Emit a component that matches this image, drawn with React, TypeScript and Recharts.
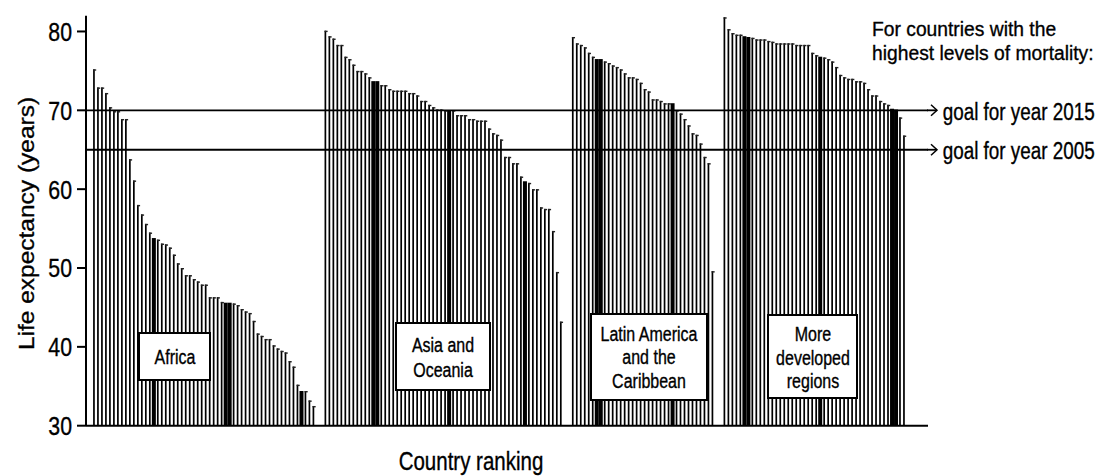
import React from "react";
import { BarChart, Bar, XAxis, YAxis, ReferenceLine } from "recharts";

// ---------- data ----------
const regions = ["Africa", "Asia and Oceania", "Latin America and the Caribbean", "More developed regions"];

const africa = [
  75.2, 72.9, 72.9, 72.2, 70.4, 69.9, 69.9, 68.9, 68.9, 63.8,
  61.1, 58.0, 56.8, 55.6, 54.5, 53.8, 53.6, 53.1, 53.0, 52.6,
  51.7, 50.6, 50.0, 49.1, 49.1, 48.6, 48.3, 47.9, 47.9, 46.3,
  46.3, 46.3, 45.7, 45.6, 45.6, 45.5, 45.3, 44.8, 44.5, 44.3,
  43.3, 41.7, 41.4, 41.0, 41.0, 40.2, 39.8, 39.5, 39.3, 38.2,
  37.5, 35.2, 34.4, 34.4, 33.2, 32.5,
];

const asiaOceania = [
  80.1, 79.4, 79.1, 78.3, 78.3, 76.8, 76.5, 75.8, 75.0, 75.0,
  74.7, 74.2, 73.7, 73.7, 73.2, 73.2, 72.7, 72.5, 72.5, 72.5,
  72.5, 72.2, 72.2, 71.9, 71.2, 71.2, 70.7, 70.4, 70.1, 70.1,
  70.0, 70.0, 70.0, 69.4, 69.4, 69.4, 68.9, 68.9, 68.7, 68.7,
  68.7, 67.7, 67.1, 66.9, 66.3, 64.1, 64.1, 63.3, 63.3, 61.6,
  61.0, 60.8, 60.0, 60.0, 57.7, 57.5, 57.5, 54.7, 49.5, 43.2,
];

const latinAmerica = [
  79.3, 78.5, 78.3, 78.0, 77.3, 76.8, 76.5, 76.5, 76.2, 76.0,
  75.7, 75.5, 75.2, 74.7, 74.2, 74.2, 74.0, 73.5, 72.7, 72.4,
  71.4, 71.4, 71.2, 70.9, 70.9, 70.9, 70.0, 69.6, 68.9, 68.1,
  67.1, 66.9, 65.8, 64.1, 63.3, 49.6,
];

const moreDeveloped = [
  81.8, 80.3, 79.8, 79.6, 79.6, 79.4, 79.3, 79.2, 79.0, 79.0,
  79.0, 78.8, 78.7, 78.5, 78.5, 78.5, 78.5, 78.5, 78.3, 78.3,
  78.3, 78.3, 77.3, 77.0, 76.8, 76.7, 76.5, 76.2, 75.5, 74.5,
  74.2, 74.0, 74.0, 73.7, 73.7, 73.5, 72.7, 71.9, 71.9, 71.2,
  70.9, 70.7, 70.2, 70.1, 69.1, 66.8,
];

const yTicks = [30, 40, 50, 60, 70, 80];
const goalValues = [70, 65];
const goalLabels = ["goal for year 2015", "goal for year 2005"];
const noteLines = ["For countries with the", "highest levels of mortality:"];
const yAxisTitle = "Life expectancy (years)";
const xAxisTitle = "Country ranking";
const boxLines = [["Africa"], ["Asia and", "Oceania"], ["Latin America", "and the", "Caribbean"], ["More", "developed", "regions"]];

const regionValues = [africa, asiaOceania, latinAmerica, moreDeveloped];
const GAP_SLOTS = 2;

const data: { id: string; v: number | null }[] = [];
regionValues.forEach((vals, r) => {
  if (r > 0) for (let g = 0; g < GAP_SLOTS; g++) data.push({ id: `gap${r}-${g}`, v: null });
  vals.forEach((v, i) => data.push({ id: `${regions[r]} ${i + 1}`, v }));
});

// ---------- styling ----------
const FONT = "'Liberation Sans', Arial, Helvetica, sans-serif";
const SX = 0.82;
const HEAVY = 0.35;

const W = 1101;
const H = 476;
const PLOT_TOP = 15.7;
const PLOT_BOTTOM = 425.7;
const PLOT_LEFT = 86;
const PLOT_RIGHT = 928;

// aliasing pattern of the scanned original (dark columns every ~74px)
const isDark = (cx: number) => {
  const p = (((cx - 153) % 74.2) + 74.2) % 74.2;
  return p < 3 || p > 71.2;
};

const BarShape = (props: any) => {
  const { x, y, width, height } = props;
  if (height == null || !(height > 0) || isNaN(y)) return null;
  const cx = x + width / 2;
  if (isDark(cx)) {
    return <rect x={x} y={y} width={width} height={height} fill="#000" />;
  }
  return (
    <g>
      <rect x={cx - 0.9} y={y} width={1.7} height={height} fill="#000" />
      <rect x={cx - 0.9} y={y} width={3.1} height={1.4} fill="#222" />
    </g>
  );
};

const NText = ({ x, y, size, anchor = "start", sx = SX, children }: any) => (
  <text
    transform={`translate(${x},${y}) scale(${sx},1)`}
    x={0}
    y={0}
    textAnchor={anchor}
    fontSize={size}
    fontFamily={FONT}
    fill="#000"
    stroke="#000"
    strokeWidth={HEAVY}
  >
    {children}
  </text>
);

const YTick = (props: any) => {
  const { x, y, payload } = props;
  return (
    <g transform={`translate(${x},${y}) scale(${SX},1)`}>
      <text x={0} y={0} dy="0.36em" textAnchor="end" fontSize={26} fontFamily={FONT} fill="#000" stroke="#000" strokeWidth={HEAVY}>
        {payload.value}
      </text>
    </g>
  );
};

const GoalLabel = (props: any) => {
  const vb = props.viewBox;
  if (!vb) return null;
  const xe = vb.x + vb.width;
  const yy = vb.y;
  return (
    <g>
      <line x1={xe - 1} y1={yy} x2={xe + 9} y2={yy} stroke="#000" strokeWidth={1.8} />
      <polyline points={`${xe + 3},${yy - 5.5} ${xe + 9},${yy} ${xe + 3},${yy + 5.5}`} fill="none" stroke="#000" strokeWidth={1.5} />
      <NText x={xe + 14.7} y={yy + 9.5} size={23}>
        {props.text}
      </NText>
    </g>
  );
};

const boxes = [
  { x: 139, y: 333, w: 71, h: 47, cx: 175, base: [364] },
  { x: 396, y: 323, w: 94, h: 67, cx: 443, base: [352, 377] },
  { x: 591, y: 314, w: 116, h: 86, cx: 649, base: [340.5, 364, 387.5] },
  { x: 768, y: 315, w: 89, h: 83, cx: 813, base: [340.5, 364.5, 388] },
];

export default function App() {
  return (
    <div style={{ position: "absolute", left: 0, top: 0, width: W, height: H, background: "#fff" }}>
      <BarChart
        width={W}
        height={H}
        data={data}
        margin={{ top: PLOT_TOP, right: W - PLOT_RIGHT, bottom: H - PLOT_BOTTOM - 30, left: 0 }}
        barCategoryGap={0}
        barGap={0}
      >
        <XAxis
          dataKey="id"
          type="category"
          tick={false}
          tickLine={false}
          height={30}
          axisLine={{ stroke: "#000", strokeWidth: 2 }}
          padding={{ left: 6, right: 22 }}
          interval={0}
        />
        <YAxis
          width={PLOT_LEFT}
          domain={[30, 82]}
          ticks={yTicks}
          allowDataOverflow
          tick={<YTick />}
          tickSize={9}
          tickMargin={5}
          tickLine={{ stroke: "#000", strokeWidth: 2 }}
          axisLine={{ stroke: "#000", strokeWidth: 2 }}
        />
        {goalValues.map((g, i) => (
          <ReferenceLine
            key={g}
            y={g}
            stroke="#000"
            strokeWidth={1.8}
            label={<GoalLabel text={goalLabels[i]} />}
          />
        ))}
        <Bar dataKey="v" isAnimationActive={false} shape={<BarShape />} />
      </BarChart>

      <svg
        width={W}
        height={H}
        style={{ position: "absolute", left: 0, top: 0, pointerEvents: "none" }}
      >
        <text
          transform={`translate(26,223.5) scale(0.92,1) rotate(-90)`}
          x={0}
          y={0}
          dy="0.35em"
          textAnchor="middle"
          fontSize={24.5}
          fontFamily={FONT}
          fill="#000"
          stroke="#000"
          strokeWidth={HEAVY}
        >
          {yAxisTitle}
        </text>
        <NText x={471} y={470} size={25} anchor="middle">
          {xAxisTitle}
        </NText>
        <NText x={872} y={35.5} size={21} sx={0.918}>
          {noteLines[0]}
        </NText>
        <NText x={872} y={60.3} size={21} sx={0.918}>
          {noteLines[1]}
        </NText>
        {boxes.map((b, i) => (
          <g key={i}>
            <rect x={b.x} y={b.y} width={b.w} height={b.h} fill="#fff" stroke="#000" strokeWidth={2} />
            {boxLines[i].map((line, j) => (
              <NText key={j} x={b.cx} y={b.base[j]} size={19.5} anchor="middle">
                {line}
              </NText>
            ))}
          </g>
        ))}
      </svg>
    </div>
  );
}
